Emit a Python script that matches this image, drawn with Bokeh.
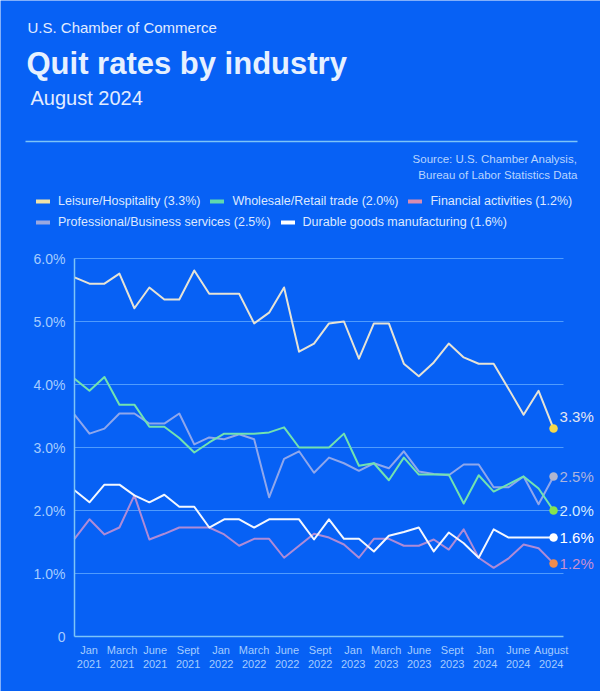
import numpy as np
from bokeh.plotting import figure
from bokeh.models import (Range1d, LinearAxis, FixedTicker, Label, Legend, LegendItem,
                          ColumnDataSource, Grid)
from bokeh.embed import file_html
from bokeh.resources import INLINE
from bokeh.core.properties import value

# ---------------- data ----------------
tick_labels = ["Jan\n2021", "March\n2021", "June\n2021", "Sept\n2021", "Jan\n2022",
               "March\n2022", "June\n2022", "Sept\n2022", "Jan\n2023", "March\n2023",
               "June\n2023", "Sept\n2023", "Jan\n2024", "June\n2024", "August\n2024"]

names = ["Leisure/Hospitality", "Wholesale/Retail trade", "Financial activities",
         "Professional/Business services", "Durable goods manufacturing"]

leisure = [5.70, 5.60, 5.60, 5.76, 5.21, 5.54, 5.35, 5.35, 5.81, 5.44, 5.44, 5.44, 4.97,
           5.14, 5.54, 4.52, 4.65, 4.97, 5.00, 4.41, 4.97, 4.97, 4.33, 4.13, 4.35, 4.65,
           4.43, 4.33, 4.33, 3.93, 3.52, 3.90, 3.30]
wholesale = [4.09, 3.90, 4.12, 3.68, 3.68, 3.33, 3.33, 3.15, 2.92, 3.08, 3.22, 3.22, 3.22,
             3.24, 3.32, 3.00, 3.00, 3.00, 3.22, 2.71, 2.75, 2.48, 2.84, 2.57, 2.57, 2.57,
             2.11, 2.56, 2.30, 2.42, 2.54, 2.35, 2.00]
financial = [1.55, 1.86, 1.62, 1.73, 2.24, 1.54, 1.63, 1.73, 1.73, 1.73, 1.62, 1.44, 1.55,
             1.55, 1.25, 1.44, 1.63, 1.57, 1.46, 1.25, 1.55, 1.55, 1.44, 1.44, 1.54, 1.38,
             1.70, 1.25, 1.09, 1.24, 1.46, 1.40, 1.16]
professional = [3.52, 3.22, 3.30, 3.54, 3.54, 3.38, 3.38, 3.54, 3.05, 3.16, 3.13, 3.21, 3.13,
                2.21, 2.82, 2.94, 2.60, 2.84, 2.75, 2.63, 2.75, 2.67, 2.94, 2.62, 2.58, 2.56,
                2.73, 2.73, 2.37, 2.37, 2.54, 2.10, 2.54]
durable = [2.32, 2.13, 2.41, 2.41, 2.24, 2.13, 2.25, 2.06, 2.06, 1.73, 1.86, 1.86, 1.73,
           1.86, 1.86, 1.86, 1.54, 1.86, 1.55, 1.55, 1.35, 1.60, 1.66, 1.73, 1.35, 1.65,
           1.48, 1.25, 1.70, 1.57, 1.57, 1.57, 1.57]

y_ticks = [0, 1, 2, 3, 4, 5, 6]

series = [leisure, wholesale, financial, professional, durable]

# ---------------- styles ----------------
BG = "#0761F5"
AXIS = "#7CC4F8"
GRID_C = "#4F9BFD"
TXT = "#E2ECFF"
SRC = "#B8D4FF"
TICK_TXT = "#A5CCFF"
FONT = "Liberation Sans"

line_colors = ["#E6E3D6", "#72E2B0", "#AE8BD7", "#8FA7EC", "#F3F7FF"]
swatch_colors = ["#EFE2A8", "#5FD9AE", "#D88CB0", "#9AA8E0", "#FFFFFF"]
dot_colors = ["#F6D84A", "#86E34E", "#F08C4C", "#B1B5CF", "#FFFFFF"]
end_text_colors = ["#E4E6F2", "#D5EBFF", "#C890D2", "#ABB4DE", "#FFFFFF"]
end_y_offsets = [-12, 0, 0, 0, 0]

W, H = 600, 691
X0_PX, Y0_PX = 74, 636      # data origin on the canvas
DX_PX, DY_PX = 14.97, 63.0  # pixels per period / per percentage point
RIGHT_PX = 563


def dx(px):
    return (px - X0_PX) / DX_PX


def dy(py):
    return (Y0_PX - py) / DY_PX


n = len(leisure)
idx = list(range(n))

p = figure(width=W, height=H, x_range=Range1d(dx(0), dx(W)), y_range=Range1d(dy(H), dy(0)),
           output_backend="svg", toolbar_location=None, title=None,
           x_axis_location=None, y_axis_location=None, min_border=0)
p.background_fill_color = BG
p.border_fill_color = BG
p.outline_line_color = None
for r in p.center:
    if isinstance(r, Grid):
        r.visible = False

# grid lines
grid_vals = y_ticks[1:]
p.segment(x0=[0] * len(grid_vals), y0=grid_vals, x1=[dx(RIGHT_PX)] * len(grid_vals),
          y1=grid_vals, line_color=GRID_C, line_width=1)

# axes
yaxis = LinearAxis(fixed_location=0, ticker=FixedTicker(ticks=y_ticks), bounds=(0, y_ticks[-1]))
yaxis.major_label_overrides = {t: ("0" if t == 0 else f"{t:.1f}%") for t in y_ticks}
yaxis.major_label_standoff = 9
yaxis.major_label_text_font_size = "14px"
p.add_layout(yaxis, "left")

xt = [round(v, 4) for v in np.linspace(dx(88.6), dx(550.7), len(tick_labels))]
xaxis = LinearAxis(fixed_location=0, ticker=FixedTicker(ticks=xt), bounds=(0, dx(RIGHT_PX)))
xaxis.major_label_overrides = {t: lab for t, lab in zip(xt, tick_labels)}
xaxis.major_label_standoff = 7
xaxis.major_label_text_font_size = "11px"
p.add_layout(xaxis, "below")

for ax in (xaxis, yaxis):
    ax.axis_line_color = AXIS
    ax.axis_line_width = 1.5
    ax.major_tick_line_color = None
    ax.minor_tick_line_color = None
    ax.major_tick_in = 0
    ax.major_tick_out = 0
    ax.minor_tick_in = 0
    ax.minor_tick_out = 0
    ax.major_label_text_color = TICK_TXT
    ax.major_label_text_font = FONT

# series lines (draw order)
for k in [3, 1, 2, 4, 0]:
    p.line(idx, series[k], line_color=line_colors[k], line_width=2, line_join="round")

# end points + labels
last = [s[-1] for s in series]
end_src = ColumnDataSource(dict(
    x=[n - 1] * len(series), y=last, text=[f"{v:.1f}%" for v in last],
    dot=dot_colors, tc=end_text_colors, yo=end_y_offsets))
p.scatter("x", "y", source=end_src, size=8.5, fill_color="dot", line_color=None)
p.text("x", "y", text="text", source=end_src, text_color="tc", x_offset=6, y_offset="yo",
       text_baseline="middle", text_align="left", text_font=value(FONT), text_font_size="15px")

# header
p.add_layout(Label(x=dx(27), y=dy(27), text="U.S. Chamber of Commerce", text_color=TXT,
                   text_font=FONT, text_font_size="15px", text_baseline="middle"))
p.add_layout(Label(x=dx(26), y=dy(63), text="Quit rates by industry", text_color="#E6F0FF",
                   text_font=FONT, text_font_size="31px", text_font_style="bold",
                   text_baseline="middle"))
p.add_layout(Label(x=dx(30), y=dy(97), text="August 2024", text_color=TXT,
                   text_font=FONT, text_font_size="20px", text_baseline="middle"))
p.segment(x0=[dx(25)], y0=[dy(141)], x1=[dx(577)], y1=[dy(141)], line_color=AXIS, line_width=1.5)
for txt, yy in [("Source: U.S. Chamber Analysis,", 158), ("Bureau of Labor Statistics Data", 174)]:
    p.add_layout(Label(x=dx(577), y=dy(yy), text=txt, text_color=SRC, text_font=FONT,
                       text_font_size="11.5px", text_baseline="middle", text_align="right"))

# legend (two rows); swatch renderers hold no visible data
swatches = [p.line(x=[0, 0], y=[np.nan, np.nan], line_color=c, line_width=4, line_cap="round")
            for c in swatch_colors]
items = [LegendItem(label=f"{nm} ({s[-1]:.1f}%)", renderers=[sw])
         for nm, s, sw in zip(names, series, swatches)]
ROW_H = 16
for row_items, row_center in [(items[:3], 201), (items[3:], 222)]:
    leg = Legend(items=row_items, orientation="horizontal",
                 location=(36, H - row_center - ROW_H / 2))
    leg.padding = 0
    leg.margin = 0
    leg.spacing = 10
    leg.glyph_width = 14
    leg.glyph_height = ROW_H
    leg.label_height = ROW_H
    leg.label_standoff = 8
    leg.border_line_color = None
    leg.background_fill_alpha = 0
    leg.label_text_font = FONT
    leg.label_text_font_size = "12.5px"
    leg.label_text_color = "#DCE8FF"
    leg.label_text_baseline = "middle"
    p.add_layout(leg, "center")

open("out.html", "w").write(file_html(p, INLINE))
